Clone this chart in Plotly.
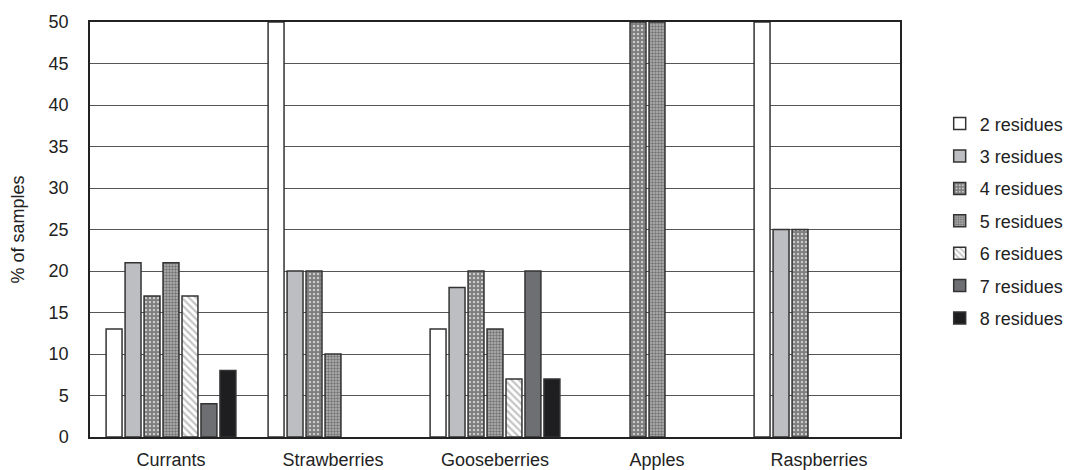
import plotly.graph_objects as go

categories = ["Currants", "Strawberries", "Gooseberries", "Apples", "Raspberries"]
series_names = ["2 residues", "3 residues", "4 residues", "5 residues",
                "6 residues", "7 residues", "8 residues"]
res2 = [13, 50, 13, None, 50]
res3 = [21, 20, 18, None, 25]
res4 = [17, 20, 20, 50, 25]
res5 = [21, 10, 13, 50, None]
res6 = [17, None, 7, None, None]
res7 = [4, None, 20, None, None]
res8 = [8, None, 7, None, None]
y_ticks = [0, 5, 10, 15, 20, 25, 30, 35, 40, 45, 50]

values = [res2, res3, res4, res5, res6, res7, res8]
styles = [
    dict(color="#ffffff"),
    dict(color="#bdbec1"),
    dict(color="#ffffff", pattern=dict(shape=".", fgcolor="#000000", bgcolor="#ffffff", size=4, solidity=0.8)),
    dict(color="#b4b4b4", pattern=dict(shape=".", fgcolor="#333333", bgcolor="#b4b4b4", size=3, solidity=0.5)),
    dict(color="#ffffff", pattern=dict(shape="\\", fgcolor="#8a8a8a", bgcolor="#ffffff", size=5, solidity=0.45)),
    dict(color="#6e6f72"),
    dict(color="#1e1e20"),
]

fig = go.Figure()
for name, vals, st in zip(series_names, values, styles):
    fig.add_trace(go.Bar(
        x=categories, y=vals, name=name, legendgroup=name,
        marker=dict(line=dict(color="#333333", width=1.5), **st),
    ))

fig.update_layout(
    width=1066, height=470,
    margin=dict(l=90, r=166, t=22, b=33, autoexpand=False),
    paper_bgcolor="white", plot_bgcolor="white",
    font=dict(family="Liberation Sans, Arial, sans-serif", size=18, color="#222222"),
    barmode="group", bargap=0.18, bargroupgap=0.16,
    showlegend=True,
    legend=dict(x=1.049, y=0.799, xanchor="left", yanchor="top",
                font=dict(size=18), tracegroupgap=6, itemwidth=30),
)
fig.update_xaxes(showline=True, linecolor="#222222", linewidth=1.5, mirror=True,
                 ticks="", showgrid=False, ticklabelstandoff=6, automargin=False)
fig.update_yaxes(range=[0, 50], tickvals=y_ticks, showgrid=True, gridcolor="#555555",
                 gridwidth=1, showline=True, linecolor="#222222", linewidth=1.5, mirror=True,
                 ticks="", zeroline=False, ticklabelstandoff=16, automargin=False,
                 title=dict(text="% of samples", standoff=19, font=dict(size=18)))

fig.write_html("out.html", config={"displayModeBar": False},
               post_script="document.body.style.margin='0px';document.body.style.overflow='hidden';")
